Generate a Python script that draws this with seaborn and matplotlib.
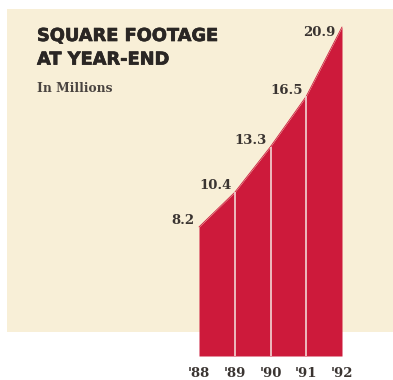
import matplotlib
matplotlib.use("Agg")
import matplotlib.pyplot as plt
import matplotlib.patheffects as pe
import seaborn as sns
import pandas as pd
from matplotlib.patches import Rectangle

# Data
years = [1988, 1989, 1990, 1991, 1992]
year_labels = ["'88", "'89", "'90", "'91", "'92"]
footage = [8.2, 10.4, 13.3, 16.5, 20.9]

title = "SQUARE FOOTAGE\nAT YEAR-END"
subtitle = "In Millions"

df = pd.DataFrame({"year": years, "footage": footage})

RED = "#CD1A3B"
PAPER = "#F8EFD7"
INK = "#2A2624"
SERIF = "DejaVu Serif"

sns.set_theme(style="white")
plt.rcParams["font.family"] = ["DejaVu Sans"]

W, H = 393, 380
fig = plt.figure(figsize=(W / 100, H / 100), dpi=100)
fig.patch.set_facecolor("white")

# Paper-coloured panel behind the chart
panel = Rectangle((7 / W, 1 - 332 / H), (W - 7) / W, (332 - 9) / H,
                  transform=fig.transFigure, facecolor=PAPER,
                  edgecolor="none", zorder=-5)
fig.add_artist(panel)

# Axes placed so the first and last years and the 0..max range fill the area
x0, x1 = 199, 342
y0, y1 = 356, 27
ax = fig.add_axes([x0 / W, 1 - y0 / H, (x1 - x0) / W, (y0 - y1) / H])
ax.set_zorder(2)
ax.set_facecolor("none")
ax.set_xlim(years[0], years[-1])
ax.set_ylim(0, max(footage))

ax.fill_between(df["year"], 0, df["footage"], color=RED, linewidth=0, zorder=2)
sns.lineplot(data=df, x="year", y="footage", ax=ax, color=RED, linewidth=0.6,
             zorder=3, clip_on=False)
ax.vlines(df["year"][1:-1], 0, df["footage"][1:-1], color="#F3D6D4",
          linewidth=1.2, zorder=4)

# Value labels, up and to the left of each point
offsets = [(-4, 6), (-3, 7), (-4, 6), (-3, 6), (-7, -6)]
for x, v, (dx, dy) in zip(years, footage, offsets):
    ax.annotate(f"{v:.1f}", (x, v), xytext=(dx, dy), textcoords="offset pixels",
                ha="right", va="center", fontsize=9.5, fontweight="bold",
                family=SERIF, color="#3A3431", zorder=5,
                annotation_clip=False)

ax.set_xticks(years)
ax.set_xticklabels(year_labels, family=SERIF, fontsize=9.5,
                   fontweight="bold", color="#3A3431")
ax.tick_params(axis="x", length=0, pad=8)
ax.set_yticks([])
ax.set_xlabel("")
ax.set_ylabel("")
for s in ax.spines.values():
    s.set_visible(False)

fig.text(37 / W, 1 - 27 / H, title, ha="left", va="top", fontsize=12.8,
         fontweight="heavy", color=INK, linespacing=1.4,
         path_effects=[pe.withStroke(linewidth=0.5, foreground=INK)])
fig.text(37 / W, 1 - 82 / H, subtitle, ha="left", va="top", fontsize=8.8,
         fontweight="bold", family=SERIF, color="#4A4440")

fig.savefig("out.png", dpi=100)
